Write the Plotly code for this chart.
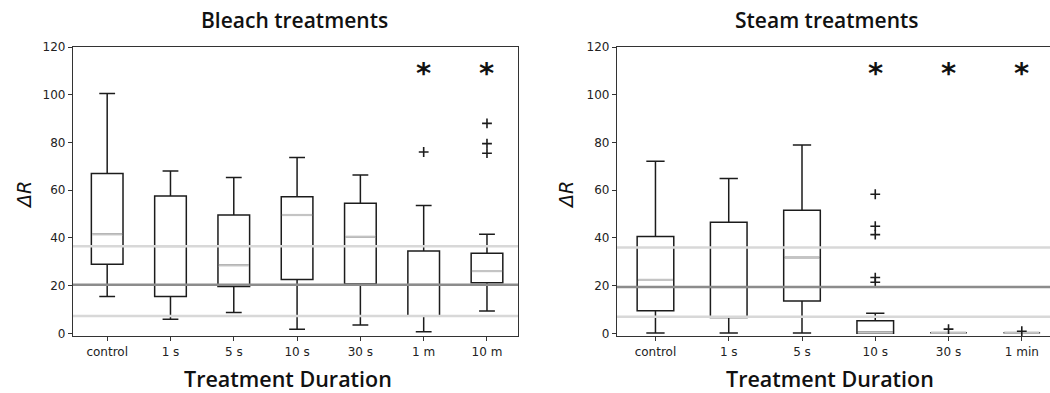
import plotly.graph_objects as go

# ---------------- data ----------------
bleach_labels = ["control", "1 s", "5 s", "10 s", "30 s", "1 m", "10 m"]
bleach_lowerfence = [15.4, 5.9, 8.7, 1.7, 3.5, 0.7, 9.4]
bleach_q1 = [29.0, 15.4, 19.6, 22.6, 20.7, 7.3, 21.2]
bleach_median = [41.5, 36.5, 28.5, 49.6, 40.5, 20.4, 26.1]
bleach_q3 = [67.0, 57.6, 49.6, 57.3, 54.5, 34.5, 33.6]
bleach_upperfence = [100.5, 68.0, 65.3, 73.7, 66.4, 53.6, 41.5]
bleach_flier_x = [5, 6, 6, 6]
bleach_flier_y = [76.0, 88.0, 79.5, 75.5]
bleach_sig = [5, 6]
bleach_reflines_light = [36.5, 7.3]
bleach_refline_dark = 20.4

steam_labels = ["control", "1 s", "5 s", "10 s", "30 s", "1 min"]
steam_lowerfence = [0.2, 0.2, 0.2, 0.0, 0.0, 0.0]
steam_q1 = [9.5, 6.7, 13.6, 0.0, 0.0, 0.0]
steam_median = [22.4, 19.4, 31.8, 0.3, 0.3, 0.3]
steam_q3 = [40.6, 46.6, 51.6, 5.3, 0.0, 0.0]
steam_upperfence = [72.1, 64.9, 78.9, 8.4, 0.0, 0.0]
steam_flier_x = [3, 3, 3, 3, 3, 4, 5]
steam_flier_y = [58.3, 44.9, 41.4, 23.4, 21.4, 1.8, 0.9]
steam_sig = [3, 4, 5]
steam_reflines_light = [36.0, 7.0]
steam_refline_dark = 19.4

Y_TICKS = [0, 20, 40, 60, 80, 100, 120]

# ---------------- style ----------------
W, H = 1050, 393
BOX_W = 0.5
EDGE = "#1c1c1c"
MEDIAN_C = "#c4c4c4"
LIGHT = "#d8d8d8"
DARK = "#8c8c8c"
FONT = "DejaVu Sans"
TFONT = "Open Sans"

fig = go.Figure()


def add_panel(xa, ya, labels, lf, q1, med, q3, uf, fx, fy):
    pos = list(range(len(labels)))
    fig.add_trace(go.Box(
        x=pos, q1=q1, median=med, q3=q3, lowerfence=lf, upperfence=uf,
        width=BOX_W, whiskerwidth=0.5, boxpoints=False,
        line=dict(color=EDGE, width=1.5), fillcolor="rgba(0,0,0,0)",
        xaxis=xa, yaxis=ya, showlegend=False, hoverinfo="skip"))
    mx, my = [], []
    for p, m in zip(pos, med):
        mx += [p - BOX_W / 2 + 0.01, p + BOX_W / 2 - 0.01, None]
        my += [m, m, None]
    fig.add_trace(go.Scatter(
        x=mx, y=my, mode="lines", line=dict(color=MEDIAN_C, width=2.2),
        xaxis=xa, yaxis=ya, showlegend=False, hoverinfo="skip"))
    fig.add_trace(go.Scatter(
        x=fx, y=fy, mode="markers",
        marker=dict(symbol="cross-thin", size=7, line=dict(color=EDGE, width=1.6)),
        xaxis=xa, yaxis=ya, showlegend=False, hoverinfo="skip"))


add_panel("x", "y", bleach_labels, bleach_lowerfence, bleach_q1, bleach_median,
          bleach_q3, bleach_upperfence, bleach_flier_x, bleach_flier_y)
add_panel("x2", "y2", steam_labels, steam_lowerfence, steam_q1, steam_median,
          steam_q3, steam_upperfence, steam_flier_x, steam_flier_y)

shapes = []
for xa, ya, lights, dark in [("x", "y", bleach_reflines_light, bleach_refline_dark),
                             ("x2", "y2", steam_reflines_light, steam_refline_dark)]:
    for v in lights:
        shapes.append(dict(type="line", xref=f"{xa} domain", yref=ya, x0=0, x1=1,
                           y0=v, y1=v, line=dict(color=LIGHT, width=2.5), layer="above"))
    shapes.append(dict(type="line", xref=f"{xa} domain", yref=ya, x0=0, x1=1,
                       y0=dark, y1=dark, line=dict(color=DARK, width=2.5), layer="above"))

annotations = []
for xa, ya, sig in [("x", "y", bleach_sig), ("x2", "y2", steam_sig)]:
    for s in sig:
        annotations.append(dict(xref=xa, yref=ya, x=s, y=109, text="<b>*</b>",
                                xanchor="center", yanchor="middle",
                                showarrow=False, font=dict(family=FONT, size=29, color="#111")))

plot_top, plot_bot = 47, 336
ph = plot_bot - plot_top


def py(pix):
    return (plot_bot - pix) / ph


def label(xpix, ypix, text, size, family=TFONT, **kw):
    font = dict(family=family, size=size, color="#111")
    font.update(kw.pop("font_extra", {}))
    return dict(xref="paper", yref="paper", x=xpix / W, y=py(ypix), text=text,
                xanchor="center", yanchor="middle", showarrow=False, font=font, **kw)


annotations += [
    label(294, 20, "Bleach treatments", 21, font_extra=dict(weight=600)),
    label(827, 20, "Steam treatments", 21, font_extra=dict(weight=600)),
    label(288, 378, "Treatment Duration", 21.5, font_extra=dict(weight=600)),
    label(830, 378, "Treatment Duration", 21.5, font_extra=dict(weight=600)),
    label(24, 195, "ΔR", 19, family=FONT, textangle=-90, font_extra=dict(style="italic")),
    label(566, 195, "ΔR", 19, family=FONT, textangle=-90, font_extra=dict(style="italic")),
]

axis_common = dict(showgrid=False, zeroline=False, showline=True, linecolor="#333",
                   linewidth=1.2, ticks="outside", ticklen=4, tickcolor="#333",
                   tickfont=dict(family=FONT, size=12, color="#222"))

fig.update_layout(
    width=W, height=H, margin=dict(l=0, r=0, t=plot_top, b=H - plot_bot),
    paper_bgcolor="white", plot_bgcolor="white",
    font=dict(family=FONT),
    xaxis=dict(domain=[73 / W, 518 / W], range=[-0.54, 6.49],
               tickvals=list(range(len(bleach_labels))), ticktext=bleach_labels,
               mirror=True, anchor="y", **axis_common),
    yaxis=dict(domain=[0, 1], range=[-1.1, 120], tickvals=Y_TICKS, mirror=True,
               anchor="x", **axis_common),
    xaxis2=dict(domain=[617 / W, 1.0], range=[-0.525, 5.385],
                tickvals=list(range(len(steam_labels))), ticktext=steam_labels,
                mirror=True, anchor="y2", **axis_common),
    yaxis2=dict(domain=[0, 1], range=[-1.1, 120], tickvals=Y_TICKS, mirror=False,
                anchor="x2", **axis_common),
    shapes=shapes, annotations=annotations,
)

fig.write_html("out.html")
